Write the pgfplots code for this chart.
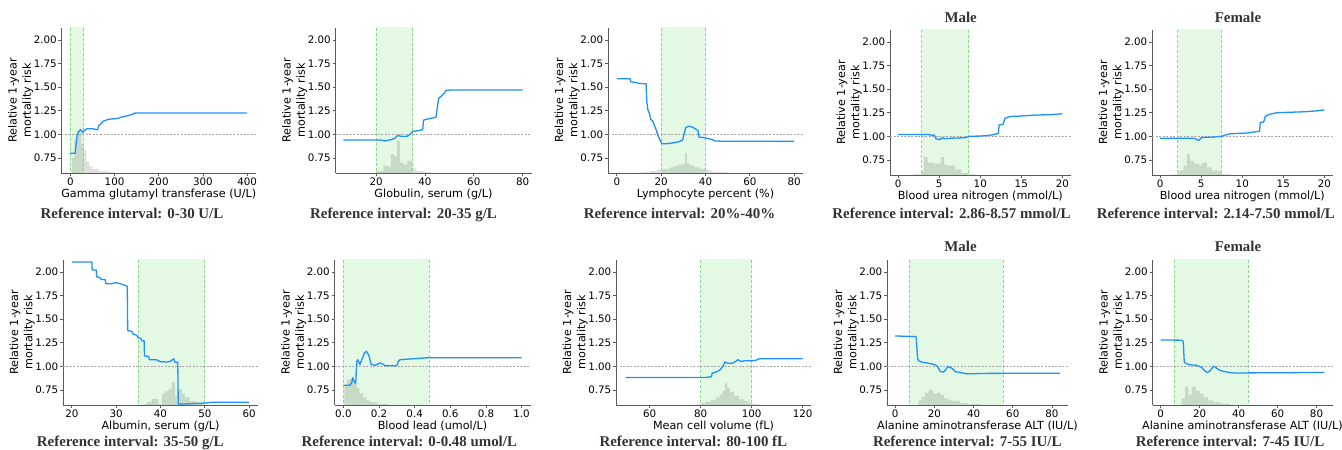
\documentclass[border=0pt]{standalone}
\usepackage{fontspec}
\setmainfont{DejaVu Sans}
\newfontfamily\ttl{Liberation Serif}
\usepackage{pgfplots}
\pgfplotsset{compat=1.18}

\definecolor{lineblue}{RGB}{30,144,255}
\definecolor{refgreen}{RGB}{227,249,227}
\definecolor{refedge}{RGB}{135,222,135}
\definecolor{spine}{RGB}{90,90,90}

\newcommand\lblfont{\fontsize{11.2pt}{14.2pt}\selectfont}
\newcommand\tckfont{\fontsize{10.3pt}{12pt}\selectfont}

\pgfplotsset{
  pdp/.style={
    scale only axis, height=145pt, ymin=0.59, ymax=2.127,
    anchor=south west,
    axis x line*=bottom, axis y line*=left,
    axis line style={spine, line width=0.8pt, -},
    tick align=outside, major tick length=3pt,
    tick style={spine, line width=0.8pt},
    ytick={0.75,1.00,1.25,1.50,1.75,2.00},
    yticklabel style={/pgf/number format/fixed, /pgf/number format/fixed zerofill, /pgf/number format/precision=2},
    scaled ticks=false,
    /pgf/number format/assume math mode=true,
    tick label style={font=\tckfont, inner sep=1.6pt},
    every axis y label/.style={at={(axis description cs:0,0.5)}, xshift=-40.8pt, rotate=90, anchor=center, align=center, font=\lblfont},
    every axis x label/.style={at={(axis description cs:0.5,0)}, yshift=-24.5pt, anchor=base, font=\lblfont},
    ylabel={Relative 1-year\\mortality risk},
  },
  curve/.style={lineblue, line width=1.3pt, line join=round},
  hist/.style={const plot, fill=black, fill opacity=0.12, draw=none},
  band/.style={fill=refgreen, draw=none},
  edge/.style={refedge, line width=0.8pt, dash pattern=on 3pt off 2pt},
  unity/.style={black!35, dash pattern=on 2pt off 1.5pt, line width=0.6pt},
}

\begin{document}
\lblfont
\begin{tikzpicture}
\useasboundingbox (0pt,0pt) rectangle (1342pt,450pt);

% ---------- row 1 ----------
\begin{axis}[pdp, at={(61.5pt,277pt)}, width=194.5pt, xmin=-20, xmax=420,
  xtick={0,100,200,300,400}, xlabel={Gamma glutamyl transferase (U/L)}]
\addplot[band] coordinates {(0,2.5)(30,2.5)} \closedcycle;
\addplot[hist] coordinates {(4,0.75)(9,0.95)(14,1.04)(20,1.02)(25,0.90)(30,0.83)(36,0.71)(43,0.66)(50,0.63)(65,0.61)(85,0.60)(100,0.60)} \closedcycle;
\addplot[edge] coordinates {(0,0.5)(0,2.5)};
\addplot[edge] coordinates {(30,0.5)(30,2.5)};
\addplot[unity] coordinates {(-20,1)(420,1)};
\addplot[curve] coordinates {(0,0.80)(11,0.80)(12,0.85)(15,0.98)(19,1.03)(23,1.05)(28,1.02)(32,1.04)(38,1.06)(49,1.06)(60,1.05)(62,1.05)(64,1.09)(75,1.14)(87,1.16)(100,1.165)(109,1.17)(113,1.18)(132,1.20)(142,1.215)(146,1.225)(250,1.225)(400,1.225)};
\end{axis}

\begin{axis}[pdp, at={(335.5pt,277pt)}, width=196pt, xmin=3.35, xmax=83.65,
  xtick={20,40,60,80}, xlabel={Globulin, serum (g/L)}]
\addplot[band] coordinates {(20,2.5)(35,2.5)} \closedcycle;
\addplot[hist] coordinates {(20,0.61)(23,0.67)(24.6,0.66)(26,0.79)(27.4,0.77)(28.5,0.93)(29.8,0.70)(31.2,0.68)(32.8,0.72)(34.6,0.64)(36.6,0.61)(39.4,0.60)(42,0.60)} \closedcycle;
\addplot[edge] coordinates {(20,0.5)(20,2.5)};
\addplot[edge] coordinates {(35,0.5)(35,2.5)};
\addplot[unity] coordinates {(3.35,1)(83.65,1)};
\addplot[curve] coordinates {(6.6,0.94)(21.6,0.94)(23.7,0.93)(26.4,0.945)(27.8,0.96)(28.9,0.99)(29.8,0.98)(31.2,0.977)(32.8,0.98)(33.9,1.0)(35,1.03)(36.6,1.036)(39.1,1.05)(39.4,1.15)(40.7,1.16)(42.4,1.17)(44.5,1.18)(45.1,1.29)(45.6,1.38)(46.9,1.41)(48.1,1.44)(48.5,1.465)(51,1.47)(80,1.47)};
\end{axis}

\begin{axis}[pdp, at={(608pt,277pt)}, width=195pt, xmin=-4, xmax=84,
  xtick={0,20,40,60,80}, xlabel={Lymphocyte percent (\%)}]
\addplot[band] coordinates {(20,2.5)(40,2.5)} \closedcycle;
\addplot[hist] coordinates {(8,0.595)(12,0.60)(15,0.61)(18,0.625)(21,0.635)(24,0.65)(26,0.665)(28,0.68)(30,0.69)(30.8,0.80)(31.6,0.69)(33,0.67)(35,0.65)(37,0.635)(40,0.62)(43,0.605)(47,0.60)(50,0.60)} \closedcycle;
\addplot[edge] coordinates {(20,0.5)(20,2.5)};
\addplot[edge] coordinates {(40,0.5)(40,2.5)};
\addplot[unity] coordinates {(-4,1)(84,1)};
\addplot[curve] coordinates {(0,1.589)(6,1.589)(6.3,1.557)(8.3,1.55)(9.8,1.54)(13.2,1.536)(13.5,1.35)(14,1.26)(14.7,1.22)(15.3,1.16)(16.2,1.14)(17,1.09)(17.7,1.05)(18.5,0.99)(19.5,0.94)(20.3,0.90)(22.5,0.90)(25.5,0.91)(27.8,0.92)(29.7,0.94)(30.3,1.0)(31.1,1.07)(32.3,1.086)(33.8,1.08)(35.3,1.06)(36.6,1.04)(37.1,0.97)(39,0.966)(40.5,0.96)(42.8,0.945)(44.3,0.93)(47.3,0.927)(80,0.925)};
\end{axis}

\begin{axis}[pdp, at={(890pt,275pt)}, width=180.5pt, xmin=-1, xmax=21,
  xtick={0,5,10,15,20}, xlabel={Blood urea nitrogen (mmol/L)}]
\addplot[band] coordinates {(2.86,2.5)(8.57,2.5)} \closedcycle;
\addplot[hist] coordinates {(1.9,0.60)(2.75,0.63)(3.16,0.78)(3.6,0.72)(4.4,0.71)(5.2,0.78)(5.6,0.70)(6.0,0.69)(6.9,0.65)(7.7,0.61)(8.5,0.60)(9.5,0.60)} \closedcycle;
\addplot[edge] coordinates {(2.86,0.5)(2.86,2.5)};
\addplot[edge] coordinates {(8.57,0.5)(8.57,2.5)};
\addplot[unity] coordinates {(-1,1)(21,1)};
\addplot[curve] coordinates {(0,1.02)(3.6,1.02)(4.2,1.01)(4.4,1.015)(4.6,0.975)(5.0,0.964)(5.4,0.985)(5.6,0.975)(6.4,0.98)(8.1,0.985)(8.7,1.0)(10.1,1.003)(11.4,1.014)(12.2,1.03)(12.3,1.12)(12.8,1.13)(13.0,1.19)(13.6,1.21)(14.7,1.214)(16.7,1.225)(18.8,1.23)(20,1.24)};
\end{axis}

\begin{axis}[pdp, at={(1152pt,275pt)}, width=180.5pt, xmin=-1, xmax=21,
  xtick={0,5,10,15,20}, xlabel={Blood urea nitrogen (mmol/L)}]
\addplot[band] coordinates {(2.14,2.5)(7.50,2.5)} \closedcycle;
\addplot[hist] coordinates {(1.6,0.60)(2.2,0.64)(2.85,0.69)(3.25,0.81)(3.6,0.74)(4.1,0.71)(4.7,0.69)(5.1,0.72)(5.7,0.67)(6.3,0.64)(6.9,0.63)(7.5,0.60)(8.5,0.60)} \closedcycle;
\addplot[edge] coordinates {(2.14,0.5)(2.14,2.5)};
\addplot[edge] coordinates {(7.50,0.5)(7.50,2.5)};
\addplot[unity] coordinates {(-1,1)(21,1)};
\addplot[curve] coordinates {(0,0.98)(4.1,0.98)(4.7,0.956)(5.0,0.984)(5.3,0.99)(6.1,0.99)(7.5,1.0)(8.1,1.017)(8.5,1.027)(10.6,1.035)(11.8,1.05)(12.1,1.053)(12.2,1.15)(12.6,1.15)(12.8,1.21)(13.2,1.23)(14.2,1.25)(17.5,1.26)(19.1,1.27)(20,1.28)};
\end{axis}

% ---------- row 2 ----------
\begin{axis}[pdp, at={(63pt,45pt)}, width=195pt, xmin=18, xmax=62,
  xtick={20,30,40,50,60}, xlabel={Albumin, serum (g/L)}]
\addplot[band] coordinates {(35,2.5)(50,2.5)} \closedcycle;
\addplot[hist] coordinates {(36,0.60)(37,0.62)(38,0.655)(39.5,0.60)(40.3,0.71)(41,0.735)(41.8,0.76)(42.5,0.83)(43.3,0.68)(44,0.76)(44.8,0.71)(45.5,0.67)(46.6,0.63)(48.1,0.605)(50,0.605)} \closedcycle;
\addplot[edge] coordinates {(35,0.5)(35,2.5)};
\addplot[edge] coordinates {(50,0.5)(50,2.5)};
\addplot[unity] coordinates {(18,1)(62,1)};
\addplot[curve] coordinates {(20,2.106)(24.5,2.106)(24.6,2.02)(25.5,2.02)(25.6,1.95)(26.4,1.94)(26.6,1.92)(27.5,1.92)(27.7,1.876)(29,1.876)(29.8,1.887)(30.9,1.876)(31.6,1.865)(32.5,1.85)(32.6,1.38)(33.5,1.37)(33.9,1.34)(34.6,1.33)(35,1.30)(35.5,1.30)(35.8,1.27)(36.3,1.27)(36.4,1.11)(37.3,1.105)(37.5,1.07)(39.1,1.07)(39.9,1.05)(41.4,1.045)(42.1,1.05)(42.7,1.07)(43,1.08)(43.3,1.04)(43.9,1.045)(44.0,0.60)(45.1,0.60)(50.4,0.612)(51.9,0.62)(60,0.62)};
\end{axis}

\begin{axis}[pdp, at={(334.5pt,45pt)}, width=196pt, xmin=-0.05, xmax=1.05,
  xtick={0,0.2,0.4,0.6,0.8,1.0},
  xticklabel style={/pgf/number format/fixed, /pgf/number format/fixed zerofill, /pgf/number format/precision=1},
  xlabel={Blood lead (umol/L)}]
\addplot[band] coordinates {(0,2.5)(0.48,2.5)} \closedcycle;
\addplot[hist] coordinates {(0.005,0.80)(0.02,0.86)(0.04,0.87)(0.06,0.82)(0.075,0.77)(0.09,0.71)(0.11,0.67)(0.13,0.64)(0.15,0.62)(0.19,0.60)(0.25,0.60)} \closedcycle;
\addplot[edge] coordinates {(0,0.5)(0,2.5)};
\addplot[edge] coordinates {(0.48,0.5)(0.48,2.5)};
\addplot[unity] coordinates {(-0.05,1)(1.05,1)};
\addplot[curve] coordinates {(0,0.80)(0.037,0.80)(0.047,0.83)(0.052,0.88)(0.06,0.84)(0.069,0.82)(0.075,1.05)(0.08,1.07)(0.093,1.02)(0.103,1.07)(0.118,1.14)(0.13,1.16)(0.144,1.11)(0.155,1.02)(0.178,1.01)(0.206,1.036)(0.219,1.025)(0.234,1.007)(0.3,1.007)(0.308,1.05)(0.318,1.07)(0.39,1.08)(0.467,1.09)(1.0,1.09)};
\end{axis}

\begin{axis}[pdp, at={(616pt,45pt)}, width=195pt, xmin=46.8, xmax=123.3,
  xtick={60,80,100,120}, xlabel={Mean cell volume (fL)}]
\addplot[band] coordinates {(80,2.5)(100,2.5)} \closedcycle;
\addplot[hist] coordinates {(76,0.595)(78,0.60)(80,0.61)(82,0.625)(84,0.645)(86,0.67)(87.5,0.70)(88.5,0.74)(89.5,0.82)(90.5,0.77)(91.5,0.73)(93,0.69)(95,0.65)(97,0.63)(99,0.61)(101,0.60)(103,0.60)} \closedcycle;
\addplot[edge] coordinates {(80,0.5)(80,2.5)};
\addplot[edge] coordinates {(100,0.5)(100,2.5)};
\addplot[unity] coordinates {(46.8,1)(123.3,1)};
\addplot[curve] coordinates {(50.6,0.882)(82.2,0.882)(84.2,0.89)(84.6,0.93)(86.1,0.94)(87.5,0.96)(88.8,1.0)(89.5,1.046)(90.3,1.036)(91.4,1.03)(92.7,1.036)(93.6,1.05)(94.6,1.07)(95.9,1.05)(97.3,1.06)(100.5,1.06)(101.8,1.065)(102.9,1.08)(120,1.08)};
\end{axis}

\begin{axis}[pdp, at={(887pt,45pt)}, width=181pt, xmin=-4.2, xmax=88.2,
  xtick={0,20,40,60,80}, xlabel={Alanine aminotransferase ALT (IU/L)}]
\addplot[band] coordinates {(7,2.5)(55,2.5)} \closedcycle;
\addplot[hist] coordinates {(12,0.64)(13.6,0.68)(15.3,0.72)(17,0.75)(19.2,0.71)(21.3,0.72)(23,0.70)(25,0.66)(27.2,0.64)(29.8,0.63)(33,0.61)(36.6,0.60)(43.4,0.60)} \closedcycle;
\addplot[edge] coordinates {(7,0.5)(7,2.5)};
\addplot[edge] coordinates {(55,0.5)(55,2.5)};
\addplot[unity] coordinates {(-4.2,1)(88.2,1)};
\addplot[curve] coordinates {(0,1.322)(10.2,1.315)(10.7,1.31)(11.4,1.086)(11.9,1.06)(13.6,1.043)(16.2,1.036)(18.7,1.025)(20.4,1.015)(21.6,1.0)(23,0.944)(24.7,0.94)(25.7,0.96)(26.7,1.0)(27.7,0.99)(28.9,0.98)(30.6,0.944)(33.2,0.934)(36.6,0.92)(46.8,0.925)(84,0.927)};
\end{axis}

\begin{axis}[pdp, at={(1152.5pt,45pt)}, width=180pt, xmin=-4.2, xmax=88.2,
  xtick={0,20,40,60,80}, xlabel={Alanine aminotransferase ALT (IU/L)}]
\addplot[band] coordinates {(7,2.5)(45,2.5)} \closedcycle;
\addplot[hist] coordinates {(10.8,0.66)(12.5,0.785)(14.2,0.70)(15.9,0.785)(18.1,0.74)(20.2,0.71)(21.9,0.67)(24.4,0.64)(27,0.62)(30.4,0.605)(35.6,0.60)} \closedcycle;
\addplot[edge] coordinates {(7,0.5)(7,2.5)};
\addplot[edge] coordinates {(45,0.5)(45,2.5)};
\addplot[unity] coordinates {(-4.2,1)(88.2,1)};
\addplot[curve] coordinates {(0,1.28)(10.8,1.277)(11.6,1.26)(12.1,1.045)(13,1.03)(15,1.017)(18.5,1.01)(21,0.99)(22.7,0.95)(23.9,0.935)(25.3,0.95)(26.7,0.99)(27.5,1.0)(28.7,0.98)(30.4,0.956)(33.8,0.94)(37.3,0.93)(42.4,0.93)(84,0.935)};
\end{axis}

% ---------- titles ----------
\tikzset{ttlnode/.style={anchor=base, inner sep=0pt, font=\ttl\bfseries\fontsize{14.9pt}{17pt}\selectfont, text=black!80}}
\node[ttlnode] at (132pt,231pt) {Reference interval: 0-30 U/L};
\node[ttlnode] at (403.5pt,231pt) {Reference interval: 20-35 g/L};
\node[ttlnode] at (679.5pt,231pt) {Reference interval: 20\%-40\%};
\node[ttlnode] at (951.5pt,231pt) {Reference interval: 2.86-8.57 mmol/L};
\node[ttlnode] at (1215.8pt,231pt) {Reference interval: 2.14-7.50 mmol/L};
\node[ttlnode] at (130.3pt,3.6pt) {Reference interval: 35-50 g/L};
\node[ttlnode] at (409.3pt,3.6pt) {Reference interval: 0-0.48 umol/L};
\node[ttlnode] at (693.3pt,3.6pt) {Reference interval: 80-100 fL};
\node[ttlnode] at (967.3pt,3.6pt) {Reference interval: 7-55 IU/L};
\node[ttlnode] at (1230pt,3.6pt) {Reference interval: 7-45 IU/L};
\node[ttlnode] at (960.7pt,427.3pt) {Male};
\node[ttlnode] at (1238pt,427pt) {Female};
\node[ttlnode] at (960.5pt,198.3pt) {Male};
\node[ttlnode] at (1238pt,198.3pt) {Female};
\end{tikzpicture}
\end{document}
